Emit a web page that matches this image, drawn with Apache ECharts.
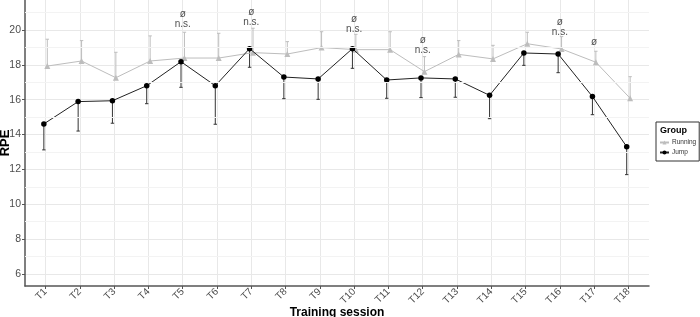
<!DOCTYPE html>
<html>
<head>
<meta charset="utf-8">
<script src="https://cdn.jsdelivr.net/npm/echarts@6/dist/echarts.min.js"></script>
<style>
  html, body { margin: 0; padding: 0; background: #fff; }
  #main { width: 700px; height: 317px; }
</style>
</head>
<body>
<div id="main"></div>
<script>
var sessions = [1, 2, 3, 4, 5, 6, 7, 8, 9, 10, 11, 12, 13, 14, 15, 16, 17, 18];

// Jump: mean and mean - SD
var jumpMean  = [14.61, 15.89, 15.94, 16.80, 18.18, 16.80, 18.93, 17.30, 17.19, 18.93, 17.13, 17.25, 17.19, 16.25, 18.68, 18.62, 16.18, 13.30];
var jumpLower = [13.12, 14.20, 14.65, 15.77, 16.71, 14.59, 17.86, 16.06, 16.02, 17.80, 16.08, 16.12, 16.14, 14.91, 17.97, 17.55, 15.14, 11.70];

// Running: mean and mean + SD
var runMean  = [17.93, 18.22, 17.26, 18.22, 18.39, 18.39, 18.70, 18.62, 18.99, 18.87, 18.87, 17.61, 18.60, 18.34, 19.21, 18.91, 18.15, 16.08];
var runUpper = [19.47, 19.39, 18.72, 19.66, 19.87, 19.81, 20.10, 19.33, 19.90, 19.75, 19.90, 18.47, 19.39, 19.12, 19.87, 19.62, 18.78, 17.32];

// significance notes
var noteSessions = [5, 7, 10, 12, 16, 17];
var noteText = ['ø\nn.s.', 'ø\nn.s.', 'ø\nn.s.', 'ø\nn.s.', 'ø\nn.s.', 'ø'];
var noteY = [20.06, 20.13, 19.77, 18.57, 19.60, 19.02];

var yTicks = [6, 8, 10, 12, 14, 16, 18, 20];
var yMinor = [7, 9, 11, 13, 15, 17, 19, 21];

var dodge = 0.05;
var runColor = '#bdbdbd';

var myChart = echarts.init(document.getElementById('main'));

// vertical bar from the mean to the SD end, cap only at the SD end
function errBar(color) {
    return function (params, api) {
        var x = api.value(0);
        var a = api.coord([x, api.value(1)]);
        var b = api.coord([x, api.value(2)]);
        var w = 1.7;
        var st = { stroke: color, lineWidth: 1 };
        return {
            type: 'group',
            children: [
                { type: 'line', shape: { x1: a[0], y1: a[1], x2: b[0], y2: b[1] }, style: st },
                { type: 'line', shape: { x1: b[0] - w, y1: b[1], x2: b[0] + w, y2: b[1] }, style: st }
            ]
        };
    };
}

var option = {
    backgroundColor: '#fff',
    animation: false,
    textStyle: { fontFamily: 'Liberation Sans' },
    grid: {
        left: 25, right: 51, top: 0, bottom: 31,
        containLabel: false,
        outerBoundsMode: 'none'
    },
    legend: {
        data: ['Running', 'Jump'],
        orient: 'vertical',
        left: 656, top: 122,
        padding: [17, 3, 5, 3],
        itemGap: 3,
        itemWidth: 9, itemHeight: 5,
        borderColor: '#333', borderWidth: 1,
        textStyle: { fontSize: 6.5, color: '#333', padding: [0, 0, 0, -2] }
    },
    graphic: [{
        type: 'text', left: 660, top: 126,
        style: { text: 'Group', fontSize: 9, fontWeight: 'bold', fill: '#000', fontFamily: 'Liberation Sans' }
    }],
    xAxis: {
        type: 'value',
        min: 0.4, max: 18.6,
        name: 'Training session',
        nameLocation: 'middle',
        nameGap: 21,
        nameMoveOverlap: false,
        nameTextStyle: { fontSize: 12, fontWeight: 'bold', color: '#000' },
        axisLine: { show: true, onZero: false, lineStyle: { color: '#555', width: 1.5 } },
        axisTick: { show: true, length: 3, customValues: sessions, lineStyle: { color: '#555' } },
        axisLabel: {
            customValues: sessions,
            rotate: 45, fontSize: 10, color: '#4d4d4d', margin: 4,
            formatter: function (v) { return 'T' + v; }
        },
        splitLine: { show: true, lineStyle: { color: '#e8e8e8', width: 1 } }
    },
    yAxis: {
        type: 'value',
        min: 5.31, max: 21.72,
        name: 'RPE',
        nameLocation: 'middle',
        nameGap: 13,
        nameMoveOverlap: false,
        nameTextStyle: { fontSize: 13, fontWeight: 'bold', color: '#000' },
        axisLine: { show: true, lineStyle: { color: '#555', width: 1.5 } },
        axisTick: { show: true, length: 3, customValues: yTicks, lineStyle: { color: '#555' } },
        axisLabel: { customValues: yTicks, fontSize: 10.5, color: '#4d4d4d', margin: 4 },
        splitLine: { show: true, lineStyle: { color: '#e8e8e8', width: 1 } }
    },
    series: [
        {
            name: 'minor', type: 'line', data: [], silent: true,
            markLine: {
                silent: true, symbol: 'none', label: { show: false },
                lineStyle: { color: '#f3f3f3', width: 1, type: 'solid' },
                data: yMinor.map(function (v) { return { yAxis: v }; })
            }
        },
        {
            name: 'runErr', type: 'custom',
            renderItem: errBar(runColor),
            data: sessions.map(function (s, i) { return [s + dodge, runMean[i], runUpper[i]]; }),
            z: 2
        },
        {
            name: 'jumpErr', type: 'custom',
            renderItem: errBar('#333'),
            data: sessions.map(function (s, i) { return [s - dodge, jumpMean[i], jumpLower[i]]; }),
            z: 2
        },
        {
            name: 'Running', type: 'line',
            data: sessions.map(function (s, i) { return [s + dodge, runMean[i]]; }),
            symbol: 'triangle', symbolSize: 6, showAllSymbol: true,
            itemStyle: { color: runColor },
            lineStyle: { color: runColor, width: 1 },
            z: 3
        },
        {
            name: 'Jump', type: 'line',
            data: sessions.map(function (s, i) { return [s - dodge, jumpMean[i]]; }),
            symbol: 'circle', symbolSize: 5.5, showAllSymbol: true,
            itemStyle: { color: '#000' },
            lineStyle: { color: '#222', width: 1 },
            z: 4
        },
        {
            name: 'notes', type: 'scatter',
            data: noteSessions.map(function (s, i) { return [s, noteY[i], noteText[i]]; }),
            symbolSize: 0,
            label: {
                show: true, position: 'top', distance: 0,
                fontSize: 10, lineHeight: 10, color: '#222',
                formatter: function (p) { return p.data[2]; }
            },
            z: 5
        }
    ]
};

myChart.setOption(option);
</script>
</body>
</html>
